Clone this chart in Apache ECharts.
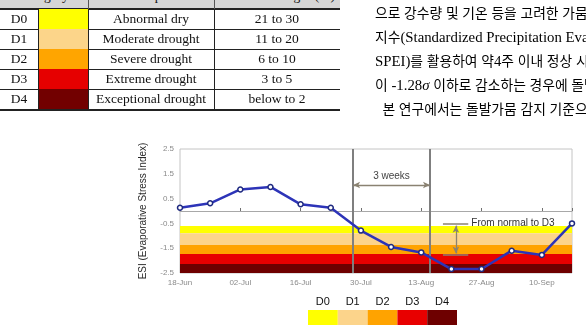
<!DOCTYPE html>
<html><head><meta charset="utf-8">
<script src="https://cdn.jsdelivr.net/npm/echarts@6/dist/echarts.min.js"></script>
<style>
html,body{margin:0;padding:0;width:586px;height:325px;overflow:hidden;background:#fff;}
#chart{position:absolute;left:0;top:0;width:586px;height:325px;}
#doc{position:absolute;left:0;top:0;width:586px;height:325px;pointer-events:none;}
.t{position:absolute;font-family:"Liberation Serif",serif;font-size:13.5px;color:#111;text-align:center;line-height:20px;white-space:nowrap;}
.ln{position:absolute;background:#222;}
.kr{position:absolute;left:375px;font-family:"Liberation Serif","Noto Sans CJK KR",serif;font-size:14.8px;color:#000;white-space:nowrap;line-height:24px;}
.kr .h{font-family:"Noto Sans CJK KR",sans-serif;font-size:13.8px;}
</style>
</head><body>
<div id="chart"></div>
<div id="doc"></div>
<script>
// ---- table data ----
const categories = ['D0','D1','D2','D3','D4'];
const descriptions = ['Abnormal dry','Moderate drought','Severe drought','Extreme drought','Exceptional drought'];
const percentiles = ['21 to 30','11 to 20','6 to 10','3 to 5','below to 2'];
const catColors = ['#ffff00','#fcd58a','#ffa500','#e60000','#720000'];
const headers = ['Category','Description','Percentile ranges (%)'];
// ---- paragraph text ----
const koreanLines = [
  '으로 강수량 및 기온 등을 고려한 가뭄 지',
  '지수(Standardized Precipitation Evapotranspiration Index,',
  'SPEI)를 활용하여 약4주 이내 정상 시기의',
  '이 -1.28<i>σ</i> 이하로 감소하는 경우에 돌발가뭄',
  '\u00a0\u00a0본 연구에서는 돌발가뭄 감지 기준으로'
];
// ---- chart data ----
const weeks = ['18-Jun','25-Jun','02-Jul','09-Jul','16-Jul','23-Jul','30-Jul','06-Aug','13-Aug','20-Aug','27-Aug','03-Sep','10-Sep','17-Sep'];
const esi = [0.13,0.31,0.87,0.97,0.27,0.13,-0.79,-1.45,-1.67,-2.34,-2.34,-1.60,-1.77,-0.50];
const xTickLabels = ['18-Jun','02-Jul','16-Jul','30-Jul','13-Aug','27-Aug','10-Sep'];
const yTickLabels = ['-2.5','-1.5','-0.5','0.5','1.5','2.5'];
const bandEdges = [-0.6,-0.9,-1.37,-1.73,-2.14,-2.5];
const bandColors = ['#ffff00','#fcd48b','#ffa300','#e80000','#6e0000'];
const windowStart = 5.74, windowEnd = 8.29;   // "3 weeks" window (week index)
const dropTop = -0.5, dropBottom = -1.77;      // "From normal to D3"

// ---- build table (HTML) ----
const doc = document.getElementById('doc');
function add(html){ doc.insertAdjacentHTML('beforeend', html); }
add(`<div style="position:absolute;left:0;top:0;width:340px;height:8px;background:#d6d6d6"></div>`);
const hdrCols = [[0,88],[88,214],[214,340]];
headers.forEach((h,i)=>{
  add(`<div class="t" style="left:${hdrCols[i][0]}px;width:${hdrCols[i][1]-hdrCols[i][0]}px;top:-14px">${h}</div>`);
});
add(`<div class="ln" style="left:0;top:8px;width:340px;height:1.5px"></div>`);
add(`<div class="ln" style="left:88px;top:0;width:1px;height:9px;background:#555"></div>`);
add(`<div class="ln" style="left:214px;top:0;width:1px;height:9px;background:#555"></div>`);
categories.forEach((c,i)=>{
  const top = 9 + 20*i;
  add(`<div style="position:absolute;left:39px;top:${top}px;width:49px;height:20px;background:${catColors[i]}"></div>`);
  add(`<div class="t" style="left:0;width:38px;top:${top}px">${c}</div>`);
  add(`<div class="t" style="left:88px;width:126px;top:${top}px">${descriptions[i]}</div>`);
  add(`<div class="t" style="left:214px;width:126px;top:${top}px">${percentiles[i]}</div>`);
  add(`<div class="ln" style="left:0;top:${top+20}px;width:340px;height:${i===4?1.5:1}px"></div>`);
});
[38,88,214].forEach(x=>add(`<div class="ln" style="left:${x}px;top:9px;width:1px;height:101px"></div>`));
koreanLines.forEach((s,i)=>{
  const html = s.replace(/([\uac00-\ud7a3]+)/g, '<span class="h">$1</span>');
  add(`<div class="kr" style="top:${0+24*i}px">${html}</div>`);
});

// ---- chart ----
const chart = echarts.init(document.getElementById('chart'), null, {renderer:'canvas'});
const F = 'Liberation Sans, Arial, sans-serif';
const grey = '#8a8272';
chart.setOption({
  animation:false,
  backgroundColor:'transparent',
  grid:[
    {left:180, top:149, width:392, height:124, show:true, borderColor:'#c4c4c4', borderWidth:1, backgroundColor:'transparent', containLabel:false, outerBoundsMode:'none'},
    {left:308, top:310, width:149, height:20, containLabel:false, outerBoundsMode:'none'}
  ],
  xAxis:[
    {gridIndex:0, type:'value', min:0, max:weeks.length-1, interval:2, position:'bottom',
     axisLine:{show:false, onZero:false}, axisTick:{show:false}, splitLine:{show:false},
     axisLabel:{color:'#8a8a8a', fontSize:8, fontFamily:F, margin:6,
       formatter:v=> (v%2===0 && v/2 < xTickLabels.length) ? xTickLabels[v/2] : ''}},
    {gridIndex:0, type:'value', min:0, max:weeks.length-1, interval:2, position:'top',
     axisLine:{show:true, onZero:true, lineStyle:{color:'#a8a8a8', width:1}},
     axisTick:{show:true, inside:false, length:3, lineStyle:{color:'#707070'}},
     axisLabel:{show:false}, splitLine:{show:false}},
    {gridIndex:1, type:'category', data:categories, position:'top',
     axisLine:{show:false}, axisTick:{show:false},
     axisLabel:{color:'#111', fontSize:11, fontFamily:F, margin:3}}
  ],
  yAxis:[
    {gridIndex:0, type:'value', min:-2.5, max:2.5, interval:0.5,
     axisLine:{show:false}, axisTick:{show:false}, splitLine:{show:false},
     axisLabel:{color:'#8a8a8a', fontSize:8, fontFamily:F, margin:6,
       formatter:v=>{const s=v.toFixed(1); return yTickLabels.includes(s)?s:'';}},
     name:'ESI (Evaporative Stress Index)', nameLocation:'middle', nameGap:32, nameRotate:90,
     nameTextStyle:{color:'#2a2a2a', fontSize:10, fontFamily:F}},
    {gridIndex:1, type:'value', min:0, max:1, show:false}
  ],
  series:[
    {name:'bands', type:'line', xAxisIndex:0, yAxisIndex:0, data:[], silent:true, z:1,
     markArea:{silent:true, data: bandColors.map((c,i)=>[
       {yAxis:bandEdges[i], itemStyle:{color:c, opacity:1}}, {yAxis:bandEdges[i+1]}])}},
    {name:'annot', type:'line', xAxisIndex:0, yAxisIndex:0, data:[], silent:true, z:3,
     markLine:{silent:true, symbol:['none','none'], label:{show:false}, animation:false,
       lineStyle:{type:'solid'},
       data:[
         {xAxis:windowStart, lineStyle:{color:'#7f7f7f', width:2}},
         {xAxis:windowEnd, lineStyle:{color:'#7f7f7f', width:2}},
         [{coord:[windowStart,1.05], symbol:'arrow', symbolSize:[5,7], lineStyle:{color:grey, width:1.3},
           label:{show:true, position:'insideMiddleTop', distance:4, formatter:'3 weeks', color:'#444', fontSize:10, fontFamily:F}},
          {coord:[windowEnd,1.05], symbol:'arrow', symbolSize:[5,7]}],
         [{coord:[8.72,dropTop], lineStyle:{color:grey, width:1.5},
           label:{show:true, position:'end', distance:3, formatter:'From normal to D3', color:'#333', fontSize:10, fontFamily:F}},
          {coord:[9.56,dropTop]}],
         [{coord:[8.72,dropBottom], lineStyle:{color:grey, width:1.5}}, {coord:[9.56,dropBottom]}],
         [{coord:[9.15,dropTop-0.09], symbol:'arrow', symbolSize:[5,7], lineStyle:{color:grey, width:1.3}},
          {coord:[9.15,dropBottom+0.06], symbol:'arrow', symbolSize:[5,7]}]
       ]}},
    {name:'ESI', type:'line', xAxisIndex:0, yAxisIndex:0, z:5,
     data: esi.map((v,i)=>[i,v]),
     symbol:'circle', symbolSize:5, showSymbol:true,
     itemStyle:{color:'#ffffff', borderColor:'#1f2a80', borderWidth:1.5},
     lineStyle:{color:'#2d34b8', width:2.5}},
    {name:'legend', type:'bar', xAxisIndex:2, yAxisIndex:1, barCategoryGap:'0%', silent:true,
     data: categories.map((c,i)=>({value:1, itemStyle:{color:bandColors[i]}}))}
  ]
});
</script>
</body></html>
